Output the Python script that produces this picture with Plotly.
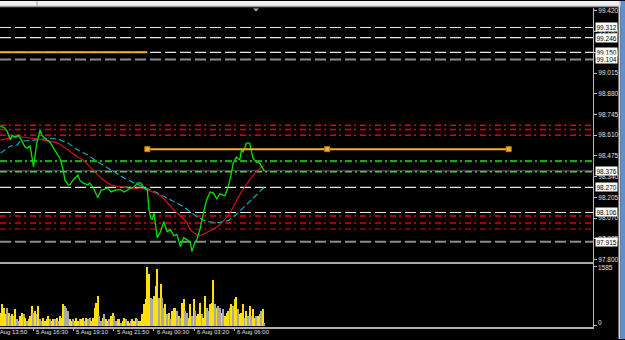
import plotly.graph_objects as go

# ---------------- data ----------------
price_bars = [0,2,4,6,7,9,11,13,15,16,18,20,21,22,24,25,27,28,30,32,34,36,38,39,41,42,44,47,48,50,
              53,54,56,59,61,62,65,67,70,73,75,77,79,81,83,85,87,89,90,91,92,93,94,95,97,99,101,103,105,107,
              109,111,113,115,116,118,119,121,123,125,127,129,131,133,136,138,140,141,143,145,146,147,148,149,151,152,153,155,157,160]
price_close = [98.668,98.662,98.636,98.578,98.610,98.597,98.610,98.571,98.532,98.526,
               98.539,98.403,98.480,98.558,98.642,98.610,98.590,98.578,98.565,98.526,
               98.493,98.461,98.383,98.318,98.286,98.286,98.318,98.351,98.318,98.299,
               98.286,98.299,98.273,98.202,98.253,98.253,98.266,98.240,98.253,98.253,
               98.240,98.253,98.266,98.273,98.299,98.299,98.266,98.253,98.124,98.072,
               98.059,98.104,98.014,97.942,97.981,98.046,97.981,97.994,97.955,97.962,
               97.884,97.942,97.929,97.910,97.852,97.916,97.929,98.001,98.104,98.189,
               98.240,98.234,98.195,98.228,98.215,98.273,98.364,98.428,98.467,98.448,
               98.513,98.500,98.526,98.558,98.558,98.513,98.461,98.435,98.428,98.376]

ma_red_bars = [0,10,20,26,35,41,47,50,55,61,67,73,81,85,89,97,105,107,113,115,120,125,133,139,145,150,156,160]
ma_red = [98.578,98.600,98.590,98.578,98.558,98.513,98.467,98.448,98.396,98.331,98.286,98.273,98.260,98.266,
          98.253,98.215,98.124,98.104,98.040,97.994,97.955,97.975,98.027,98.104,98.221,98.305,98.383,98.415]

ma_cyan_bars = [0,6,10,12,20,30,35,41,47,53,59,67,75,81,87,95,103,111,119,125,132,138,144,150,155,160]
ma_cyan = [98.493,98.539,98.545,98.571,98.578,98.590,98.584,98.558,98.513,98.480,98.435,98.383,98.331,
           98.299,98.273,98.234,98.189,98.143,98.079,98.046,98.040,98.053,98.104,98.169,98.221,98.273]

volume = [356,579,490,312,490,356,267,312,267,445,
          178,134,267,356,312,223,134,178,267,534,
          356,401,312,534,178,134,223,134,178,267,
          178,134,178,178,223,134,267,223,596,534,
          490,401,178,134,178,134,223,134,178,178,
          223,134,223,178,223,134,223,490,623,801,
          267,134,223,312,178,134,178,267,356,267,
          134,178,178,89,134,223,178,134,89,134,
          178,134,223,178,134,134,312,579,712,1585,
          1380,757,712,801,1068,1513,757,1113,757,490,
          579,312,356,178,401,490,490,401,267,223,
          623,712,401,356,223,579,267,712,401,267,
          312,623,312,223,801,490,401,579,623,1219,
          579,490,534,490,356,445,267,356,401,490,
          579,534,712,774,445,312,356,579,223,401,
          267,534,267,445,223,267,267,312,401,445,
          89]
volume_dir = ("YYYYGYGYGY" "GGYYGYGYYY" "GYGYGGYYYY" "GYYGYGYYYG" "GGYYGYYYGY"
              "YGYGGYYYYY" "GGYGYYGYYG" "GYYGYYGYYG" "YYYGYYYYYY" "YGGYYYGYGG"
              "YGYGYYYGYG" "YYGGYYGYGY" "YYGYYGGYYY" "GYGGYGYYYG" "YGYYGYYYGY"
              "GYGYYGYYGY" "G")
volume_bars = list(range(len(volume)))
volume_axis_max = 1585

time_tick_bars = [-4.7, 19.7, 44.1, 68.5, 92.9, 117.3, 141.7]
time_tick_labels = ["5 Aug 13:50", "5 Aug 16:30", "5 Aug 19:10", "5 Aug 21:50",
                    "6 Aug 00:30", "6 Aug 03:20", "6 Aug 06:00"]

price_ticks = [97.800, 97.935, 98.070, 98.205, 98.340, 98.475, 98.610,
               98.745, 98.880, 99.015, 99.150, 99.285, 99.420]

levels_white = [99.312, 99.246, 99.150, 98.270, 98.106]
levels_gray = [99.104, 97.915]
levels_red = [98.675, 98.647, 98.610, 98.083, 98.038]
levels_darkred = [97.999]
levels_green = [98.441]
levels_lightgreen = [98.372]
bid_price = 98.378

price_labels = [99.312, 99.246, 99.150, 99.104, 98.376, 98.270, 98.106, 97.915]

trend_top_bars = [-2, 89]
trend_top_price = [99.150, 99.150]
trend_mid_bars = [89, 198, 308]
trend_mid_price = [98.519, 98.519, 98.519]

# ---------------- layout constants ----------------
W, H = 625, 340
AX_X = 593  # pixel x of price axis
xdom = [0, AX_X / W]
main_dom = [1 - 262.5 / H, 1 - 7 / H]
vol_dom = [1 - 327.5 / H, 1 - 263.5 / H]
x_range = [-0.3, 359.1]
y_range = [97.7836, 99.4394]
v_range = [-21, 1686]

FONT = "Liberation Sans"
fig = go.Figure()

# price + MAs
fig.add_trace(go.Scatter(x=ma_cyan_bars, y=ma_cyan, mode="lines",
                         line=dict(color="#12B4C4", width=1.1, dash="6px,3px"), xaxis="x", yaxis="y"))
fig.add_trace(go.Scatter(x=ma_red_bars, y=ma_red, mode="lines",
                         line=dict(color="#E01010", width=1.1, shape="spline", smoothing=0.6), xaxis="x", yaxis="y"))
fig.add_trace(go.Scatter(x=price_bars, y=price_close, mode="lines",
                         line=dict(color="#00E000", width=1.3), xaxis="x", yaxis="y"))
# trend lines
fig.add_trace(go.Scatter(x=trend_top_bars, y=trend_top_price, mode="lines",
                         line=dict(color="#F2B41E", width=2), xaxis="x", yaxis="y"))
fig.add_trace(go.Scatter(x=trend_mid_bars, y=trend_mid_price, mode="lines+markers",
                         line=dict(color="#F2B41E", width=2),
                         marker=dict(symbol="square", size=5, color="#F5B030",
                                     line=dict(color="#C08010", width=1)),
                         xaxis="x", yaxis="y"))
# volume
vcol = ["#FFE000" if d == "Y" else "#A8A8A8" for d in volume_dir]
fig.add_trace(go.Bar(x=volume_bars, y=volume, marker=dict(color=vcol, line=dict(width=0)),
                     width=0.65, xaxis="x2", yaxis="y2"))

shapes = []
def level(v, color, width, dash):
    shapes.append(dict(type="line", xref="x domain", x0=0, x1=1, yref="y", y0=v, y1=v,
                       line=dict(color=color, width=width, dash=dash), layer="below"))

for v in levels_white:
    level(v, "#E6E6E6", 1.2, "11px,4px")
for v in levels_gray:
    level(v, "#8C8C8C", 2, "11px,4px")
for v in levels_red:
    level(v, "#E00000", 1.5, "6px,3px,2px,4px")
for v in levels_darkred:
    level(v, "#7A0000", 2, "6px,3px,2px,4px")
for v in levels_green:
    level(v, "#23A023", 2.2, "7px,3px,2px,3px")
level(bid_price, "#5A5A5A", 1, "solid")
for v in levels_lightgreen:
    level(v, "#45D045", 1.5, "7px,3px,2px,3px")

# window chrome
shapes.append(dict(type="rect", xref="paper", yref="paper", x0=0, x1=1, y0=1 - 5 / H, y1=1,
                   fillcolor="#F0F0F0", line=dict(width=0)))
shapes.append(dict(type="line", xref="paper", yref="paper", x0=0, x1=1, y0=1 - 5.5 / H, y1=1 - 5.5 / H,
                   line=dict(color="#9A9A9A", width=1.5)))
shapes.append(dict(type="line", xref="paper", yref="paper", x0=37 / W, x1=37 / W, y0=1 - 5 / H, y1=1,
                   line=dict(color="#A0A0A0", width=1)))
shapes.append(dict(type="rect", xref="paper", yref="paper", x0=618.5 / W, x1=620.5 / W, y0=0, y1=1,
                   fillcolor="#D8D8D8", line=dict(width=0)))
shapes.append(dict(type="rect", xref="paper", yref="paper", x0=620.5 / W, x1=1, y0=0, y1=1,
                   fillcolor="#5F8FD0", line=dict(width=0)))
shapes.append(dict(type="path", xref="paper", yref="paper",
                   path=f"M {253/W} {1-7.5/H} L {259/W} {1-7.5/H} L {256/W} {1-10.5/H} Z",
                   fillcolor="#9FB3C8", line=dict(width=0)))

ann = []
# price label boxes
for v in price_labels:
    ann.append(dict(x=595 / W, xref="paper", y=v, yref="y", text=f"{v:.3f}", showarrow=False,
                    xanchor="left", yanchor="middle", bgcolor="#FFFFFF", borderpad=0.5,
                    font=dict(family=FONT, size=6.5, color="#000000")))
# volume labels
ann.append(dict(x=596 / W, xref="paper", y=volume_axis_max, yref="y2", text=str(volume_axis_max),
                showarrow=False, xanchor="left", yanchor="middle", yshift=-1,
                font=dict(family=FONT, size=6.5, color="#E0E0E0")))
ann.append(dict(x=596 / W, xref="paper", y=0, yref="y2", text="0", showarrow=False,
                xanchor="left", yanchor="middle", yshift=3,
                font=dict(family=FONT, size=6.5, color="#E0E0E0")))
# time labels
for b, t in zip(time_tick_bars, time_tick_labels):
    if b < x_range[0]:
        ann.append(dict(x=0, xref="paper", xshift=(b - x_range[0]) * AX_X / (x_range[1] - x_range[0]),
                        y=1 - 333 / H, yref="paper", text=t, showarrow=False,
                        xanchor="left", yanchor="middle",
                        font=dict(family=FONT, size=6, color="#E0E0E0")))
    else:
        ann.append(dict(x=b, xref="x2", xshift=1, y=1 - 333 / H, yref="paper", text=t, showarrow=False,
                        xanchor="left", yanchor="middle",
                        font=dict(family=FONT, size=6, color="#E0E0E0")))

axis_common = dict(showgrid=False, zeroline=False)
fig.update_layout(
    width=W, height=H, margin=dict(l=0, r=0, t=0, b=0),
    paper_bgcolor="#000000", plot_bgcolor="#000000",
    showlegend=False, hovermode=False, bargap=0,
    font=dict(family=FONT, size=6.5, color="#E0E0E0"),
    xaxis=dict(domain=xdom, range=x_range, anchor="y", showline=True, linecolor="#A8A8A8",
               linewidth=2, ticks="", showticklabels=False, **axis_common),
    yaxis=dict(domain=main_dom, range=y_range, anchor="x", side="right", showline=True,
               linecolor="#B8B8B8", linewidth=1, ticks="outside", ticklen=3, tickcolor="#B8B8B8",
               tickvals=price_ticks, ticktext=[f"{v:.3f}" for v in price_ticks],
               tickfont=dict(family=FONT, size=6.5, color="#E0E0E0"), **axis_common),
    xaxis2=dict(domain=xdom, range=x_range, anchor="y2", matches="x", showline=True,
                linecolor="#B0B0B0", linewidth=1.5, ticks="outside", ticklen=3, tickcolor="#B0B0B0",
                tickvals=time_tick_bars, showticklabels=False, **axis_common),
    yaxis2=dict(domain=vol_dom, range=v_range, anchor="x2", side="right", showline=True,
                linecolor="#B8B8B8", linewidth=1, ticks="outside", ticklen=3, tickcolor="#B8B8B8",
                tickvals=[0, volume_axis_max], showticklabels=False, **axis_common),
    shapes=shapes, annotations=ann,
)

fig.write_html("out.html", config={"displayModeBar": False})
